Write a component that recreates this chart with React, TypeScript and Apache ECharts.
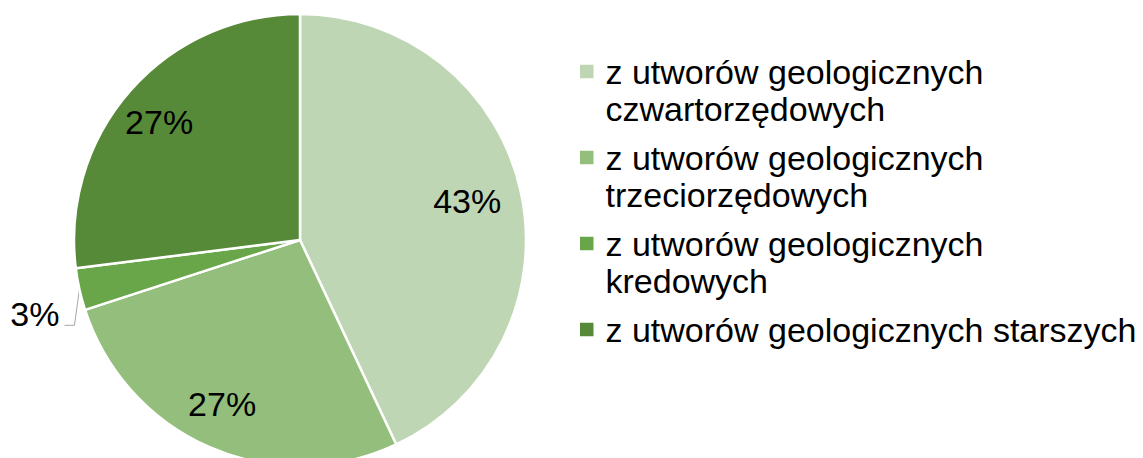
import { useEffect, useRef } from 'react';
import * as echarts from 'echarts';

const categories = [
  'z utworów geologicznych czwartorzędowych',
  'z utworów geologicznych trzeciorzędowych',
  'z utworów geologicznych kredowych',
  'z utworów geologicznych starszych',
];
const legendLines = [
  ['z utworów geologicznych', 'czwartorzędowych'],
  ['z utworów geologicznych', 'trzeciorzędowych'],
  ['z utworów geologicznych', 'kredowych'],
  ['z utworów geologicznych starszych'],
];
const shares = [43, 27, 3, 27];
const colors = ['#bed6b3', '#93be7b', '#69a64a', '#568a38'];

export default function App() {
  const ref = useRef<HTMLDivElement>(null);
  useEffect(() => {
    const chart = echarts.init(ref.current!, null, { renderer: 'svg' });
    const font = "'Liberation Sans', Arial, sans-serif";
    const LH = 37;
    const rich: any = {
      t: { fontSize: 34, lineHeight: LH, fontFamily: font, color: '#000' },
      gap: { width: 12, lineHeight: LH },
      ind: { width: 25.5, lineHeight: LH },
    };
    colors.forEach((c, i) => {
      rich['sq' + i] = { width: 13.5, height: 13.5, backgroundColor: c, lineHeight: LH };
    });
    const center = [300, 240];
    chart.setOption({
      animation: false,
      legend: {
        orient: 'vertical',
        left: 575,
        top: 53,
        padding: 0,
        itemGap: 12,
        icon: 'none',
        itemWidth: 0,
        itemHeight: 14,
        selectedMode: false,
        data: categories,
        formatter: (name: string) => {
          const i = categories.indexOf(name);
          return legendLines[i]
            .map((l, k) => (k === 0 ? `{sq${i}| }{gap| }` : '{ind| }') + `{t|${l}}`)
            .join('\n');
        },
        textStyle: { rich, fontSize: 34, fontFamily: font, color: '#000', lineHeight: LH },
      },
      series: [
        {
          type: 'pie',
          center,
          radius: 226,
          startAngle: 90,
          clockwise: true,
          silent: true,
          avoidLabelOverlap: false,
          emphasis: { disabled: true },
          itemStyle: { borderColor: '#ffffff', borderWidth: 2.5 },
          data: shares.map((v, i) => ({
            value: v,
            name: categories[i],
            itemStyle: { color: colors[i] },
            label: { show: v < 5 },
            labelLine: { show: v < 5 },
          })),
          label: {
            position: 'outside',
            formatter: (p: any) => p.value + '%',
            fontSize: 34,
            fontFamily: font,
            color: '#000',
            overflow: 'none',
          },
          labelLine: { length: 10, length2: 10, lineStyle: { color: '#a6a6a6', width: 1 } },
          labelLayout: (p: any) => {
            if (!p.labelLinePoints) return {};
            const p0 = p.labelLinePoints[0];
            const p1 = [p0[0] - 5, p0[1] + 36];
            const p2 = [p1[0] - 10, p1[1]];
            return {
              x: p2[0] - 5,
              y: p1[1] - 11,
              align: 'right',
              verticalAlign: 'middle',
              labelLinePoints: [p0, p1, p2],
            };
          },
        },
        {
          type: 'pie',
          center,
          radius: [125, 226],
          startAngle: 90,
          clockwise: true,
          silent: true,
          emphasis: { disabled: true },
          itemStyle: { color: 'transparent', borderWidth: 0 },
          data: shares.map((v, i) => ({
            value: v,
            name: categories[i],
            label: { show: v >= 5 },
          })),
          label: {
            position: 'inside',
            formatter: (p: any) => p.value + '%',
            fontSize: 34,
            fontFamily: font,
            color: '#000',
          },
          labelLine: { show: false },
          labelLayout: { dx: -7 },
        },
      ],
    });
    return () => chart.dispose();
  }, []);
  return (
    <div
      ref={ref}
      style={{ position: 'absolute', left: 0, top: 0, width: 1143, height: 458, background: '#fff' }}
    />
  );
}
